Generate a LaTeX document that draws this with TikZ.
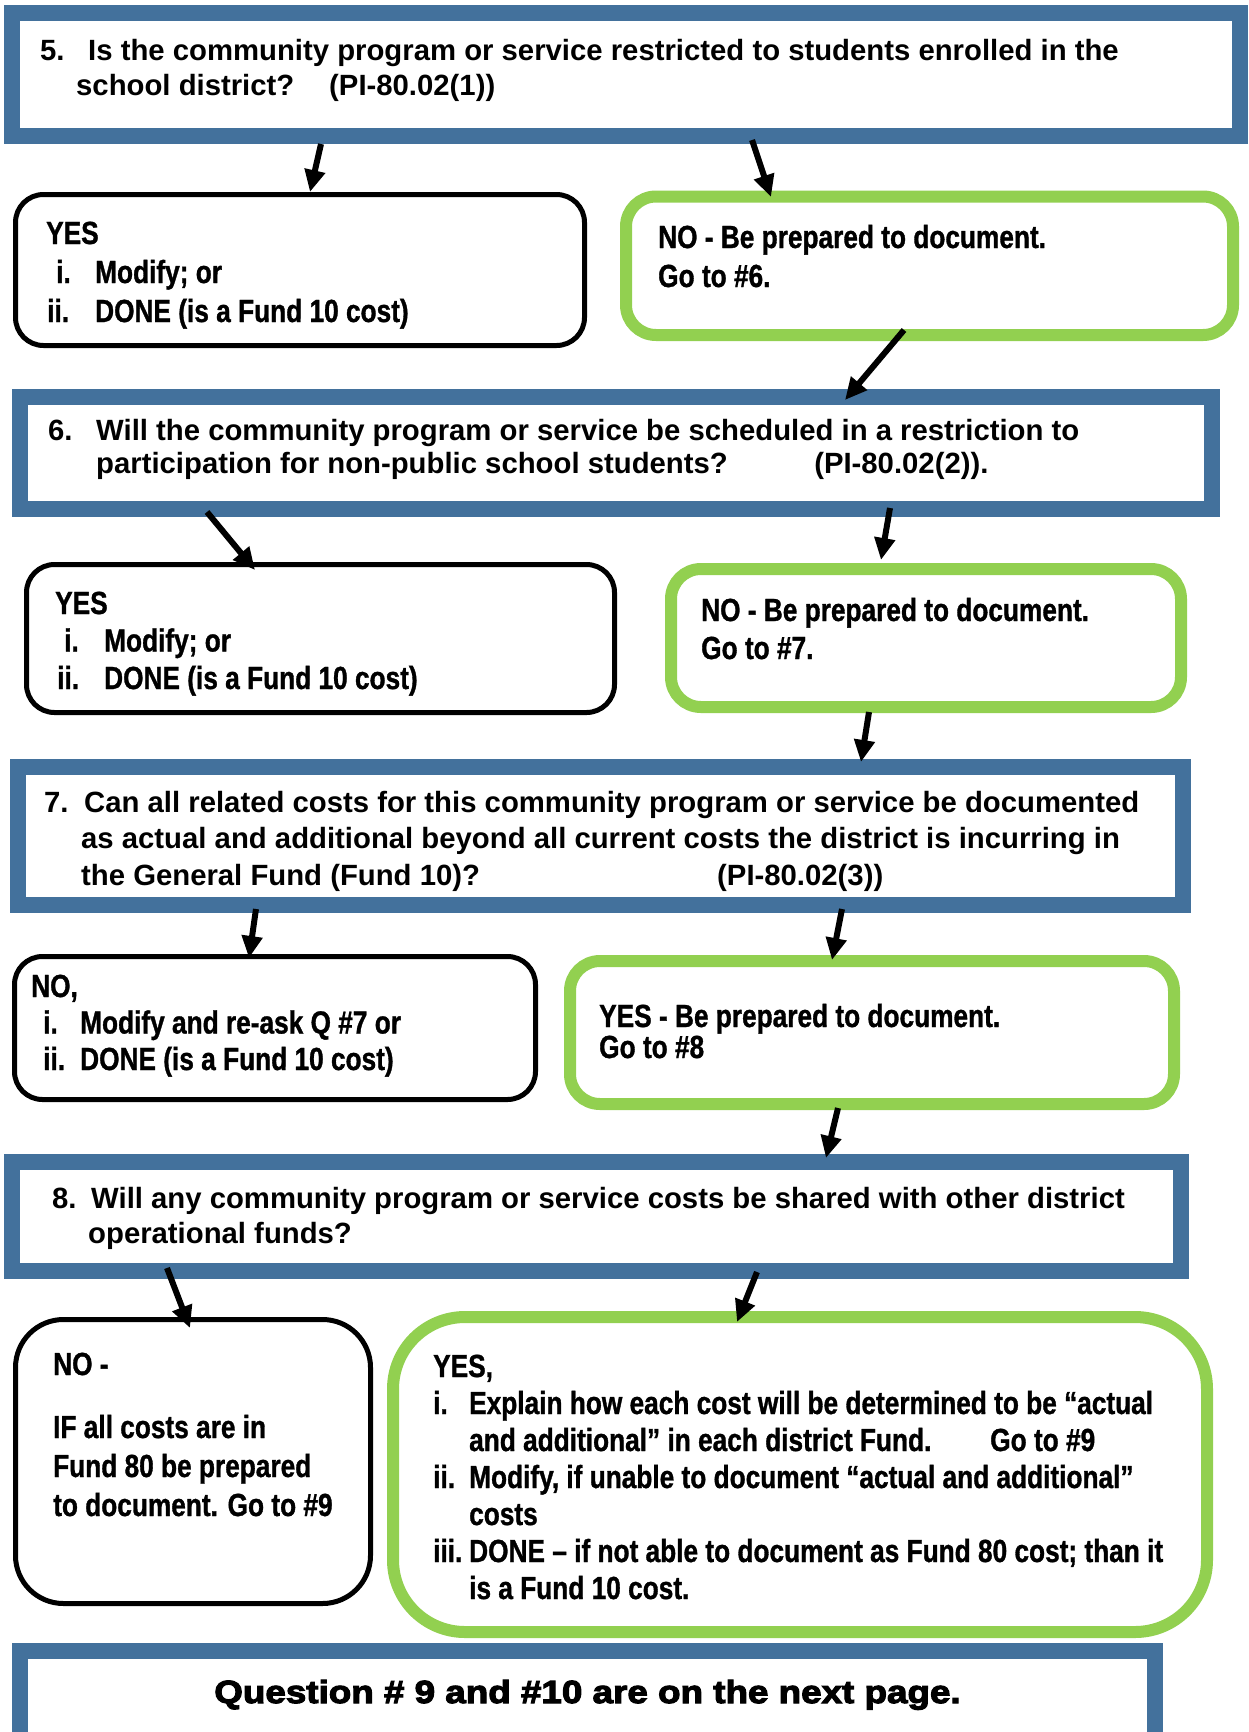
\documentclass[tikz,border=0pt]{standalone}
\usepackage{fontspec}
\setmainfont{Liberation Sans}
\newfontfamily\qfont{Liberation Sans Bold}
\newfontfamily\nfont[FakeStretch=0.82,FakeBold=1]{Liberation Sans Bold}
\newfontfamily\bfont[FakeBold=3.5,FakeStretch=1.15]{Liberation Sans Bold}
\usetikzlibrary{arrows.meta}
\definecolor{qblue}{RGB}{67,113,156}
\definecolor{agreen}{RGB}{146,208,80}
\newcommand\lab[3]{\makebox[#1][l]{\hspace*{#2}#3}}
\begin{document}
\begin{tikzpicture}[x=1pt,y=-1pt,
 qbox/.style={draw=qblue,line width=16pt,fill=white,rectangle,inner sep=0pt},
 kbox/.style={draw=black,line width=5pt,fill=white,rounded corners=28pt,inner sep=0pt},
 gbox/.style={draw=agreen,line width=12pt,fill=white,rounded corners=30pt,inner sep=0pt},
 qtxt/.style={anchor=base west,inner sep=0pt,align=left,font=\qfont\fontsize{29.3}{35}\selectfont},
 atxt/.style={anchor=base west,inner sep=0pt,align=left,font=\nfont\fontsize{32}{39}\selectfont},
 arr/.style={line width=6pt,-{Triangle[length=22pt,width=20pt]}}]
\useasboundingbox[fill=white] (0,0) rectangle (1249,1732);

% boxes
\node[qbox,minimum width=1228pt,minimum height=123.5pt] (q5) at (626,74.25) {};
\node[kbox,minimum width=569pt,minimum height=151pt] (y1) at (300,270) {};
\node[gbox,minimum width=607pt,minimum height=138.5pt] (n1) at (929.5,265.75) {};
\node[qbox,minimum width=1192pt,minimum height=112pt] (q6) at (616,452.5) {};
\node[kbox,minimum width=588pt,minimum height=148pt] (y2) at (320.5,638.5) {};
\node[gbox,minimum width=510pt,minimum height=138pt] (n2) at (926,638) {};
\node[qbox,minimum width=1165.5pt,minimum height=138pt] (q7) at (600.25,836) {};
\node[kbox,minimum width=521pt,minimum height=143pt] (n3) at (275,1028) {};
\node[gbox,minimum width=604pt,minimum height=143pt] (y3) at (872,1032.5) {};
\node[qbox,minimum width=1168.5pt,minimum height=108.5pt] (q8) at (596.25,1216.25) {};
\node[kbox,rounded corners=48pt,minimum width=355pt,minimum height=284pt] (n4) at (193,1461.5) {};
\node[gbox,rounded corners=72pt,minimum width=814pt,minimum height=315pt] (y4) at (800,1474.5) {};
\node[qbox,minimum width=1135pt,minimum height=90pt] (qb) at (587.5,1696) {};

% texts (anchor = baseline of the last line)
\node[qtxt] (t5) at (40,95) {\lab{48pt}{0pt}{5.}Is the community program or service restricted to students enrolled in the\\
\hspace*{36pt}\makebox[253pt][l]{school district?}(PI-80.02(1))};
\node[atxt] (ty1) at (46,322) {YES\\
\lab{49pt}{10pt}{i.}Modify; or\\
\lab{49pt}{1pt}{ii.}DONE (is a Fund 10 cost)};
\node[atxt] (tn1) at (658,287) {NO - Be prepared to document.\\Go to \#6.};
\node[qtxt,font=\qfont\fontsize{29.3}{33}\selectfont] (t6) at (48,473) {\lab{48pt}{0pt}{6.}Will the community program or service be scheduled in a restriction to\\
\hspace*{48pt}\makebox[718pt][l]{participation for non-public school students?}(PI-80.02(2)).};
\node[atxt,font=\nfont\fontsize{32}{37.5}\selectfont] (ty2) at (55,689) {YES\\
\lab{49pt}{9pt}{i.}Modify; or\\
\lab{49pt}{2pt}{ii.}DONE (is a Fund 10 cost)};
\node[atxt,font=\nfont\fontsize{32}{38}\selectfont] (tn2) at (701,659) {NO - Be prepared to document.\\Go to \#7.};
\node[qtxt,font=\qfont\fontsize{29.3}{36.5}\selectfont] (t7) at (44,885) {\lab{40pt}{0pt}{7.}Can all related costs for this community program or service be documented\\
\hspace*{37pt}as actual and additional beyond all current costs the district is incurring in\\
\hspace*{37pt}\makebox[636pt][l]{the General Fund (Fund 10)?}(PI-80.02(3))};
\node[atxt,font=\nfont\fontsize{32}{36.5}\selectfont] (tn3) at (31,1070) {NO,\\
\lab{49pt}{12pt}{i.}Modify and re-ask Q \#7 or\\
\lab{49pt}{12pt}{ii.}DONE (is a Fund 10 cost)};
\node[atxt,font=\nfont\fontsize{32}{31}\selectfont] (ty3) at (599,1058) {YES - Be prepared to document.\\Go to \#8};
\node[qtxt] (t8) at (52,1243) {\lab{39pt}{0pt}{8.}Will any community program or service costs be shared with other district\\
\hspace*{36pt}operational funds?};
\node[atxt] (tn4) at (53,1516) {NO -\\[24pt]
IF all costs are in\\
Fund 80 be prepared\\
to document. Go to \#9};
\node[atxt,font=\nfont\fontsize{32}{37}\selectfont] (ty4) at (433,1599) {YES,\\
\lab{36pt}{0pt}{i.}Explain how each cost will be determined to be “actual\\
\hspace*{36pt}\makebox[521pt][l]{and additional” in each district Fund.}Go to \#9\\
\lab{36pt}{0pt}{ii.}Modify, if unable to document “actual and additional”\\
\hspace*{36pt}costs\\
\lab{36pt}{0pt}{iii.}DONE – if not able to document as Fund 80 cost; than it\\
\hspace*{36pt}is a Fund 10 cost.};
\node[anchor=base,inner sep=0pt,font=\bfont\fontsize{32}{38}\selectfont] (tb) at (587.5,1703) {Question \# 9 and \#10 are on the next page.};

% arrows
\draw[arr] ([xshift=317pt]q5.south west) -- ([xshift=297pt]y1.north west);
\draw[arr] ([xshift=748pt,yshift=4pt]q5.south west) -- ([xshift=151pt,yshift=-6.5pt]n1.north west);
\draw[arr] ([xshift=284pt,yshift=11pt]n1.south west) -- ([xshift=833pt,yshift=-11.5pt]q6.north west);
\draw[arr] ([xshift=195pt,yshift=4.5pt]q6.south west) -- ([xshift=231pt,yshift=-8pt]y2.north west);
\draw[arr] ([xshift=878pt,yshift=8.5pt]q6.south west) -- ([xshift=216pt,yshift=3pt]n2.north west);
\draw[arr] ([xshift=204pt,yshift=1pt]n2.south west) -- ([xshift=851.5pt,yshift=-3pt]q7.north west);
\draw[arr] ([xshift=246.5pt,yshift=4pt]q7.south west) -- ([xshift=237pt,yshift=-4pt]n3.north west);
\draw[arr] ([xshift=832.5pt,yshift=4pt]q7.south west) -- ([xshift=268pt,yshift=-5pt]y3.north west);
\draw[arr] ([xshift=274pt,yshift=2pt]y3.south west) -- ([xshift=822pt,yshift=-4pt]q8.north west);
\draw[arr] ([xshift=163pt,yshift=10.5pt]q8.south west) -- ([xshift=177pt,yshift=-11pt]n4.north west);
\draw[arr] ([xshift=753pt,yshift=6.5pt]q8.south west) -- ([xshift=350pt,yshift=-11pt]y4.north west);
\end{tikzpicture}
\end{document}
